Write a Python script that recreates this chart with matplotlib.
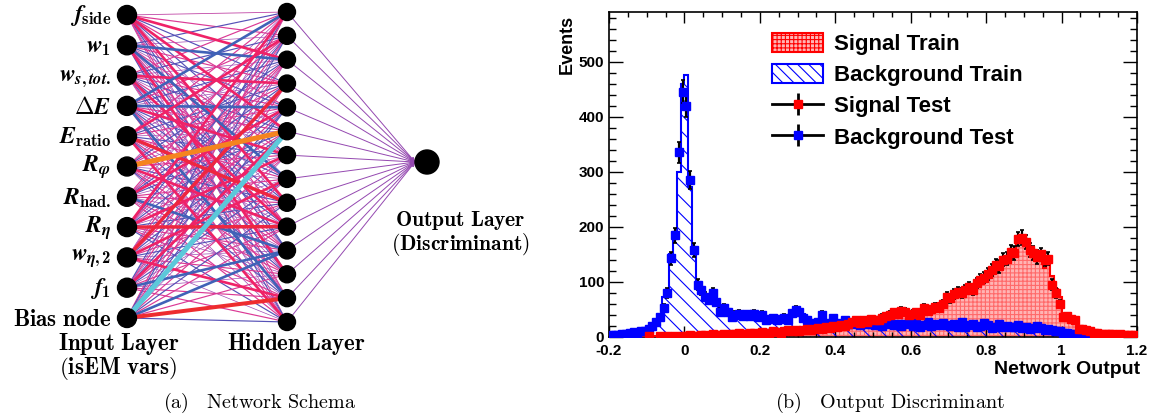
import numpy as np
import matplotlib
matplotlib.use('Agg')
import matplotlib.pyplot as plt
from matplotlib.patches import Circle, Patch
from matplotlib.lines import Line2D
from matplotlib.colors import LinearSegmentedColormap, Normalize
from matplotlib.ticker import MultipleLocator, FuncFormatter

plt.rcParams['axes.unicode_minus'] = False
plt.rcParams['hatch.linewidth'] = 0.8
plt.rcParams['mathtext.fontset'] = 'custom'
plt.rcParams['mathtext.rm'] = 'cmb10'
plt.rcParams['mathtext.bf'] = 'cmb10'
plt.rcParams['mathtext.it'] = 'STIXGeneral:italic:bold'

# ── data: network ───────────────────────────────────────────────────────────
input_labels = [r'$f_{\mathrm{side}}$', r'$w_{\mathit{1}}$', r'$w_{s,tot.}$',
                r'$\mathit{\Delta E}$', r'$E_{\mathrm{ratio}}$', r'$R_{\varphi}$',
                r'$R_{\mathrm{had.}}$', r'$R_{\eta}$', r'$w_{\eta,\mathit{2}}$',
                r'$f_{\mathit{1}}$', 'Bias node']
n_hidden = 14
# weights input -> hidden (rows: inputs, cols: hidden nodes)
weights = np.array([
    [0.5, 1, 2, -1, 1, 2, -1, 0, 2, 1, -1, 0, 1, 0.5],
    [-1, 0, -2, 1, -1, 0, 1, -2, 0, 1, -1, 2, 0, -1],
    [1, -1, 0, 2, 1, -1, 0, 1, -1, 2, 0, -1, 1, 0],
    [-2, 1, -1, 0, -2, 1, 2, -1, 0, -1, 1, 0, -2, 1],
    [1, 2, 0, -1, 1, 0, -1, 1, 2.4, 0, 1, -1, 0, 2],
    [0, 1, -1, 1, 0, 3, 1, 0, -1, 2, 0, 1, -1, 0],
    [1, 0, 1, -1, 2, -1, 0, 1, 1, 0, -2, 1, 0, 1],
    [2, -1, 1, 0, -1, 1, 2, 0, -1, 2.4, 1, 0, 1, -1],
    [0, 1, 0, 2.4, 1, -1, 0, 2, 1, -1, 0, 1, 2, 0],
    [-1, 0, 1, 0, -1, 2, 1, -1, 0, 1, -2, 0, 1, 1],
    [1, -1, 0, 1, -1, -3, 0, 1, -1, 1, -2, 1, 2.6, -1],
])

# ── data: output discriminant histograms (bins of 0.01 from -0.2 to 1.2) ────
bkg_train = np.array([
    2, 2, 3, 4, 4, 5, 7, 8, 9, 12,
    14, 18, 25, 40, 72, 85, 150, 190, 300, 460,
    475, 272, 150, 100, 85, 75, 68, 70, 60, 52,
    48, 50, 40, 40, 42, 40, 38, 42, 40, 38,
    36, 34, 32, 33, 34, 32, 31, 36, 40, 38,
    40, 42, 36, 30, 28, 27, 30, 26, 25, 26,
    27, 25, 28, 26, 24, 25, 24, 26, 24, 25,
    24, 25, 23, 24, 25, 23, 24, 23, 24, 23,
    24, 23, 24, 22, 23, 24, 22, 23, 24, 22,
    23, 24, 22, 23, 22, 23, 21, 22, 23, 21,
    22, 21, 22, 20, 21, 22, 20, 21, 19, 20,
    19, 20, 18, 19, 17, 18, 16, 15, 13, 11,
    9, 8, 7, 6, 5, 4, 3, 3, 2, 2,
    2, 1, 1, 1, 1, 1, 1, 0, 1, 0])
bkg_test = np.array([
    3, 4, 3, 5, 6, 8, 9, 8, 10, 11,
    15, 20, 28, 36, 52, 80, 143, 185, 335, 445,
    420, 285, 158, 95, 85, 73, 68, 80, 64, 46,
    52, 45, 37, 40, 42, 38, 41, 39, 42, 36,
    40, 30, 33, 34, 30, 32, 35, 30, 43, 49,
    46, 34, 30, 24, 26, 28, 40, 25, 24, 34,
    25, 22, 30, 24, 23, 26, 22, 28, 24, 23,
    22, 25, 20, 24, 26, 21, 24, 20, 23, 26,
    20, 25, 19, 22, 28, 20, 24, 22, 26, 21,
    20, 23, 19, 27, 18, 21, 24, 19, 20, 26,
    21, 17, 19, 23, 18, 20, 19, 18, 22, 16,
    18, 15, 17, 20, 16, 13, 15, 12, 10, 11,
    8, 7, 6, 5, 4, 3, 3, 2, 3, 2,
    1, 1, 2, 1, 0, 1, 1, 0, 0, 1])
sig_train = np.array([
    0, 0, 0, 0, 0, 0, 0, 0, 1, 0,
    1, 0, 1, 1, 1, 1, 1, 1, 1, 2,
    2, 2, 2, 3, 3, 3, 3, 4, 4, 4,
    4, 5, 5, 5, 6, 6, 6, 7, 7, 7,
    7, 8, 8, 8, 9, 9, 10, 10, 11, 11,
    12, 12, 13, 14, 14, 15, 16, 17, 18, 19,
    20, 21, 22, 24, 26, 27, 28, 29, 30, 31,
    32, 34, 36, 38, 40, 42, 43, 44, 44, 45,
    46, 47, 48, 50, 52, 54, 57, 61, 66, 70,
    74, 78, 82, 85, 88, 90, 93, 96, 100, 104,
    110, 118, 124, 130, 136, 142, 150, 158, 170, 176,
    174, 165, 158, 152, 145, 125, 138, 110, 88, 72,
    40, 36, 33, 26, 18, 15, 13, 10, 9, 8,
    7, 6, 6, 5, 5, 5, 4, 4, 4, 3])
sig_test = np.array([
    0, 0, 0, 0, 0, 0, 0, 0, 0, 0,
    2, 0, 0, 2, 0, 1, 0, 2, 0, 1,
    2, 3, 1, 2, 3, 4, 2, 5, 3, 4,
    5, 4, 6, 5, 7, 5, 6, 8, 7, 6,
    9, 7, 8, 10, 9, 8, 11, 12, 10, 12,
    11, 13, 14, 12, 15, 16, 14, 18, 17, 20,
    18, 21, 20, 24, 28, 30, 25, 30, 28, 32,
    31, 30, 35, 38, 40, 45, 42, 48, 46, 40,
    42, 45, 40, 53, 48, 50, 55, 52, 60, 73,
    70, 78, 82, 80, 85, 91, 86, 98, 104, 108,
    115, 122, 131, 128, 140, 142, 155, 152, 178, 180,
    172, 158, 152, 145, 150, 140, 142, 95, 80, 60,
    36, 38, 33, 30, 15, 14, 13, 10, 7, 8,
    6, 5, 5, 6, 4, 5, 4, 3, 4, 3])
edges = np.linspace(-0.2, 1.2, 141)
centers = 0.5 * (edges[:-1] + edges[1:])

fig = plt.figure(figsize=(11.6, 4.2), dpi=100)

# ── (a) network schema, drawn in pixel coordinates ─────────────────────────
ax0 = fig.add_axes([0, 0, 1, 1])
ax0.set_xlim(0, 1160)
ax0.set_ylim(420, 0)
ax0.axis('off')

x_in, x_hid, x_out, y_out = 127, 287, 427, 162
y_in = np.linspace(15, 318, len(input_labels))
y_hid = np.linspace(12, 322, n_hidden)

wcmap = LinearSegmentedColormap.from_list('w', [
    (0.0, '#5cc8da'), (0.2, '#3a4cb0'), (0.35, '#5a52b8'), (0.5, '#a04ab4'),
    (0.65, '#d83c98'), (0.8, '#f0207c'), (0.93, '#ee2830'), (1.0, '#f5841f')])
wnorm = Normalize(-3, 3)

order = sorted(((abs(weights[i, j]), i, j) for i in range(weights.shape[0])
                for j in range(n_hidden)))
for a, i, j in order:
    w = weights[i, j]
    ax0.plot([x_in, x_hid], [y_in[i], y_hid[j]], color=wcmap(wnorm(w)),
             lw=0.5 + 0.35 * a ** 2, solid_capstyle='butt', zorder=1)

for j in range(n_hidden):
    ax0.annotate('', xy=(x_out - 12, y_out), xytext=(x_hid, y_hid[j]),
                 arrowprops=dict(arrowstyle='-|>', color='#9448b0', lw=0.7,
                                 mutation_scale=6, shrinkA=0, shrinkB=0), zorder=1)

for y in y_in:
    ax0.add_patch(Circle((x_in, y), 9.5, color='black', zorder=3))
for y in y_hid:
    ax0.add_patch(Circle((x_hid, y), 8.5, color='black', zorder=3))
ax0.add_patch(Circle((x_out, y_out), 12, color='black', zorder=3))

for lab, y in zip(input_labels, y_in):
    if lab.startswith('$'):
        ax0.text(111, y + 1, lab, ha='right', va='center', fontsize=17,
                 math_fontfamily='custom')
    else:
        ax0.text(111, y + 1, r'$\mathbf{Bias\ node}$', ha='right', va='center',
                 fontsize=16.5, math_fontfamily='cm')

def bold(s, x, y, size=16.5):
    ax0.text(x, y, r'$\mathbf{' + s.replace(' ', r'\ ') + '}$', ha='center',
             va='center', fontsize=size, math_fontfamily='cm')

bold('Input Layer', 119, 344)
bold('(isEM vars)', 118, 369)
bold('Hidden Layer', 296, 344)
bold('Output Layer', 460, 220, 15.5)
bold('(Discriminant)', 460, 245, 15.5)
ax0.text(260, 403, r'$\mathrm{(a)\quad Network\ Schema}$', ha='center', va='center',
         fontsize=14.5, math_fontfamily='cm')
ax0.text(890, 403, r'$\mathrm{(b)\quad Output\ Discriminant}$', ha='center', va='center',
         fontsize=14.5, math_fontfamily='cm')

# ── (b) output discriminant ────────────────────────────────────────────────
ax = fig.add_axes([609 / 1160, 83 / 420, 528 / 1160, 325 / 420])
sig_face, sig_hatch = '#ffb4b4', '#ff6a6a'
ax.stairs(sig_train, edges, fill=True, facecolor=sig_face, edgecolor=sig_hatch,
          hatch='++++', linewidth=0, zorder=1)
ax.stairs(bkg_train, edges, fill=True, facecolor='none', edgecolor='blue',
          hatch='\\\\', linewidth=0, zorder=2)
ax.stairs(sig_train, edges, color='red', lw=1.5, zorder=3)
ax.stairs(bkg_train, edges, color='blue', lw=1.5, zorder=3)

for vals, col in [(bkg_test, 'blue'), (sig_test, 'red')]:
    m = vals > 0
    ax.errorbar(centers[m], vals[m], yerr=np.sqrt(vals[m]), xerr=0.005, fmt='s',
                color=col, ms=5.5, mec=col, ecolor='black', elinewidth=1.6,
                capsize=1.2, capthick=1.2, zorder=4)

ax.set_xlim(-0.2, 1.2)
ax.set_ylim(0, 590)
ax.xaxis.set_major_locator(MultipleLocator(0.2))
ax.xaxis.set_minor_locator(MultipleLocator(0.05))
ax.yaxis.set_major_locator(MultipleLocator(100))
ax.yaxis.set_minor_locator(MultipleLocator(20))
ax.xaxis.set_major_formatter(FuncFormatter(lambda v, _: f'{v:g}'))
ax.tick_params(which='both', direction='in', top=True, right=True, width=1)
ax.tick_params(axis='x', which='major', length=8, pad=5)
ax.tick_params(axis='x', which='minor', length=3.5)
ax.tick_params(axis='y', which='major', length=10)
ax.tick_params(axis='y', which='minor', length=5)
for s in ax.spines.values():
    s.set_linewidth(1.2)
for lab in ax.get_xticklabels() + ax.get_yticklabels():
    lab.set_fontfamily('Liberation Sans')
    lab.set_fontweight('bold')
    lab.set_fontsize(11)

ax.text(-0.08, 0.99, 'Events', transform=ax.transAxes, rotation=90, ha='center',
        va='top', fontsize=13, fontweight='bold', family='Liberation Sans')
ax.text(1.006, -0.1, 'Network Output', transform=ax.transAxes, ha='right',
        va='center', fontsize=14, fontweight='bold', family='Liberation Sans')

handles = [
    Patch(facecolor=sig_face, edgecolor='red', hatch='++++', lw=1.5),
    Patch(facecolor='white', edgecolor='blue', hatch='\\\\\\', lw=1.5),
    (Line2D([], [], color='black', lw=2), Line2D([], [], ls='none', marker='|', ms=16, mew=2, color='black'),
     Line2D([], [], ls='none', marker='s', ms=6, color='red')),
    (Line2D([], [], color='black', lw=2), Line2D([], [], ls='none', marker='|', ms=16, mew=2, color='black'),
     Line2D([], [], ls='none', marker='s', ms=6, color='blue')),
]
labels = ['Signal Train', 'Background Train', 'Signal Test', 'Background Test']
ax.legend(handles, labels, loc='upper left', bbox_to_anchor=(0.309, 0.935),
          frameon=False, borderpad=0, borderaxespad=0, handlelength=2.3,
          handleheight=0.9, handletextpad=0.5, labelspacing=0.42,
          prop=dict(family='Liberation Sans', weight='bold', size=16))

fig.savefig('out.png', dpi=100, facecolor='white')
